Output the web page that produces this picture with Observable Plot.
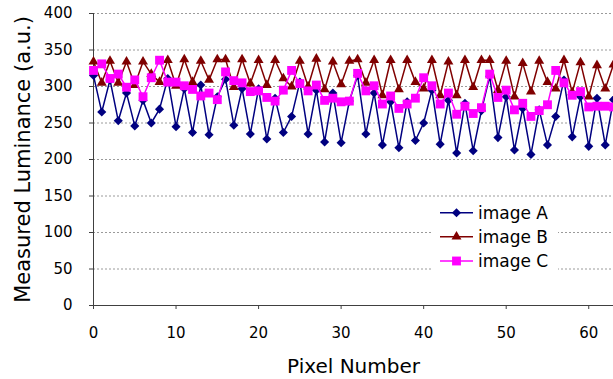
<!DOCTYPE html>
<html><head><meta charset="utf-8">
<script src="https://cdn.jsdelivr.net/npm/d3@7"></script>
<script src="https://cdn.jsdelivr.net/npm/@observablehq/plot@0.6"></script>
<style>
html,body{margin:0;padding:0;background:#fff;}
#chart{width:613px;height:379px;overflow:hidden;}
</style></head><body><div id="chart"></div>
<script>
const pixelNumber = [0,1,2,3,4,5,6,7,8,9,10,11,12,13,14,15,16,17,18,19,20,21,22,23,24,25,26,27,28,29,30,31,
  32,33,34,35,36,37,38,39,40,41,42,43,44,45,46,47,48,49,50,51,52,53,54,55,56,57,58,59,60,61,62,63];
const imageA = [315,265,309,253,291,246,281,250,269,311,245,297,237,302,234,286,
  310,247,297,235,297,228,284,237,259,306,235,295,224,291,223,280,
  315,235,291,220,279,216,279,226,250,295,221,281,209,277,212,267,
  314,230,286,213,270,207,268,220,259,309,231,286,218,284,220,282];
const imageB = [334,305,335,305,334,302,334,317,306,336,301,337,306,335,309,337,
  337,299,337,304,336,302,336,311,300,335,300,338,296,334,303,335,
  337,305,336,288,336,296,336,306,297,336,288,334,288,336,299,336,
  336,295,335,286,332,293,335,306,297,336,292,333,286,329,297,330];
const imageC = [322,331,311,317,299,309,286,312,336,306,306,301,296,287,291,282,
  320,308,305,293,294,285,280,295,322,304,294,302,281,284,279,280,
  318,294,301,276,287,270,276,284,312,301,276,291,262,273,263,271,
  317,285,295,268,277,259,267,275,322,305,288,293,272,273,273,272];
const seriesNames = ["image A","image B","image C"];
const seriesColors = ["#000080","#800000","#ff00ff"];
const seriesSymbols = ["diamond2","triangle","square"];
const seriesR = [4.1,3.7,5];
const xTicks = [0,10,20,30,40,50,60];
const yTicks = [0,50,100,150,200,250,300,350,400];

const seriesValues = [imageA, imageB, imageC];
const rows = seriesValues.map((vals, k) => vals.map((v, i) => ({series: seriesNames[k], x: pixelNumber[i], y: v})));

const marks = [
  Plot.gridY(yTicks.filter(d => d > 0), {stroke: "#9a9a9a", strokeOpacity: 1, strokeDasharray: "2,2"}),
  Plot.ruleY([0], {stroke: "#404040"}),
  Plot.ruleX([0], {stroke: "#404040"}),
  Plot.axisX({ticks: xTicks, tickSize: 4, tickPadding: 18, fontSize: 15, label: null, stroke: "#404040", fill: "#000"}),
  Plot.axisY({ticks: yTicks, tickSize: 4, tickPadding: 17, fontSize: 15, label: null, stroke: "#404040", fill: "#000"}),
  Plot.text(["Pixel Number"], {frameAnchor: "bottom", dy: 61, lineAnchor: "middle", fontSize: 20, fill: "#000"}),
  Plot.text(["Measured Luminance (a.u.)"], {frameAnchor: "left", dx: -70, rotate: -90, lineAnchor: "middle", textAnchor: "middle", fontSize: 21, fill: "#000"})
];
rows.forEach((r, k) => {
  marks.push(Plot.line(r, {x: "x", y: "y", stroke: seriesColors[k], strokeWidth: 1.5}));
  marks.push(Plot.dot(r, {x: "x", y: "y", symbol: seriesSymbols[k], r: seriesR[k], fill: seriesColors[k], stroke: "none"}));
});

const chart = Plot.plot({
  width: 613, height: 379,
  marginLeft: 93, marginRight: 0, marginTop: 13, marginBottom: 74,
  style: {fontFamily: "DejaVu Sans", background: "#fff", color: "#000"},
  x: {domain: [0, 63]},
  y: {domain: [0, 400]},
  marks
});
document.getElementById("chart").appendChild(chart);

// legend
const svg = d3.select(chart);
const lg = svg.append("g");
lg.append("rect").attr("x", 432).attr("y", 198).attr("width", 126).attr("height", 80).attr("fill", "#fff");
const rowY = [212.7, 236.7, 261];
const symMap = {diamond2: d3.symbolDiamond2, triangle: d3.symbolTriangle, square: d3.symbolSquare};
seriesNames.forEach((name, k) => {
  const y = rowY[k];
  lg.append("line").attr("x1", 440).attr("x2", 473).attr("y1", y).attr("y2", y)
    .attr("stroke", seriesColors[k]).attr("stroke-width", 1.5);
  lg.append("path").attr("transform", `translate(456.5,${y})`)
    .attr("d", d3.symbol(symMap[seriesSymbols[k]], seriesR[k] * seriesR[k] * Math.PI)())
    .attr("fill", seriesColors[k]);
  lg.append("text").attr("x", 478).attr("y", y).attr("dy", "0.35em")
    .attr("text-anchor", "start")
    .style("font-family", "DejaVu Sans").style("font-size", "17px").style("fill", "#000")
    .text(name);
});
</script></body></html>
